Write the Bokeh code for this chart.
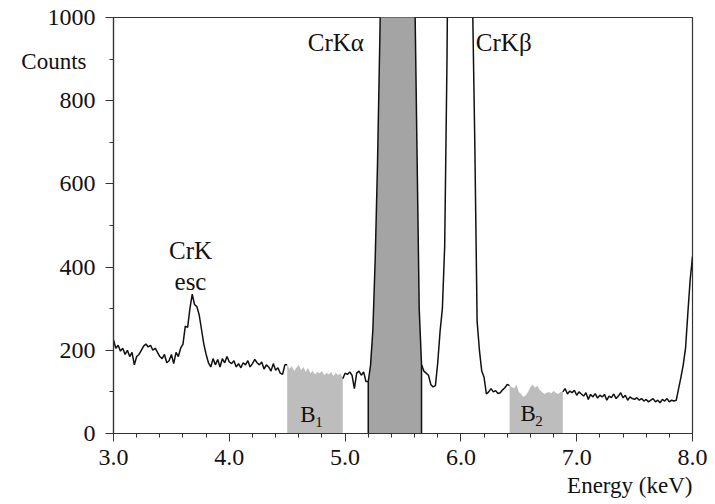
import numpy as np
from bokeh.plotting import figure
from bokeh.models import Range1d, Label, FixedTicker, LinearAxis, Title
from bokeh.embed import file_html
from bokeh.resources import INLINE

# ---- data (counts per 0.02 keV channel, 3.00 .. 8.00 keV)
e_start = 3.00
e_step = 0.02
counts = [
    225, 205, 212, 198, 205, 190, 200, 185, 195, 165,   # 3.00
    185, 190, 200, 210, 215, 208, 212, 200, 205, 195,   # 3.20
    185, 180, 190, 170, 175, 190, 168, 195, 185, 205,   # 3.40
    215, 258, 255, 300, 335, 310, 305, 285, 250, 215,   # 3.60
    190, 170, 160, 180, 165, 178, 160, 180, 170, 185,   # 3.80
    172, 168, 175, 160, 168, 158, 170, 165, 175, 160,   # 4.00
    168, 178, 170, 165, 172, 155, 165, 160, 150, 168,   # 4.20
    152, 158, 145, 142, 165, 165, 155, 162, 150, 158,   # 4.40
    165, 152, 160, 148, 158, 145, 150, 142, 148, 145,   # 4.60
    150, 140, 146, 142, 148, 138, 146, 140, 145, 132,   # 4.80
    145, 142, 148, 140, 108, 145, 150, 140, 148, 125,   # 5.00
    125, 165, 250, 420, 650, 950, 1300, 2000, 3500, 5000,   # 5.20
    6500, 7500, 7800, 7500, 6500, 5000, 3600, 2500, 1800, 1400,  # 5.40
    1100, 700, 300, 165, 150, 145, 140, 118, 112, 115,  # 5.60
    170, 245, 300, 450, 900, 1600, 2500, 3000, 3200, 3000,  # 5.80
    2600, 2000, 1600, 1300, 1150, 1050, 700, 270, 200, 150,  # 6.00
    135, 95, 100, 108, 100, 103, 96, 98, 105, 110,      # 6.20
    118, 115, 112, 108, 118, 100, 95, 88, 92, 100,      # 6.40
    112, 118, 110, 115, 105, 100, 95, 98, 100, 96,      # 6.60
    102, 98, 95, 100, 100, 108, 95, 102, 98, 104,       # 6.80
    92, 100, 95, 90, 98, 82, 94, 88, 96, 85,            # 7.00
    92, 88, 94, 80, 90, 86, 95, 84, 90, 98,             # 7.20
    86, 92, 80, 88, 84, 82, 86, 80, 84, 78,             # 7.40
    82, 76, 80, 84, 76, 80, 74, 82, 78, 84,             # 7.60
    76, 80, 78, 80, 108, 135, 165, 205, 290, 370,       # 7.80
    425,                                                # 8.00
]

# integration windows (keV)
b1_window = [4.50, 4.98]
peak_window = [5.20, 5.66]
b2_window = [6.42, 6.88]

x_ticks = [3.0, 4.0, 5.0, 6.0, 7.0, 8.0]
x_tick_labels = ["3.0", "4.0", "5.0", "6.0", "7.0", "8.0"]
y_ticks = [0, 200, 400, 600, 800, 1000]
y_tick_labels = ["0", "200", "400", "600", "800", "1000"]

c = np.array(counts, dtype=float)
e = np.round(e_start + e_step * np.arange(len(c)), 4)

FONT = "Liberation Serif"
INK = "#111111"

p = figure(width=715, height=504, x_range=Range1d(3.0, 8.0), y_range=Range1d(0, 1000),
           output_backend="svg", toolbar_location=None,
           min_border_left=113, min_border_right=23, min_border_top=17, min_border_bottom=71)
p.grid.visible = False
p.outline_line_color = "#333333"
p.outline_line_width = 1.2
p.background_fill_color = "white"
p.border_fill_color = "white"

def inwin(w):
    return (e >= w[0] - 1e-9) & (e <= w[1] + 1e-9)

# shaded areas
for w, col in ((b1_window, "#bdbdbd"), (b2_window, "#bdbdbd"), (peak_window, "#a4a4a4")):
    m = inwin(w)
    p.varea(x=e[m], y1=np.zeros(m.sum()), y2=c[m], fill_color=col)

# spectrum line (not drawn over the background windows)
segs = [(e <= b1_window[0] + 1e-9),
        (e >= b1_window[1] - 1e-9) & (e <= b2_window[0] + 1e-9),
        (e >= b2_window[1] - 1e-9)]
for m in segs:
    p.line(e[m], c[m], line_color=INK, line_width=1.5)

# edges of the peak window
idx = np.where(inwin(peak_window))[0]
p.segment(x0=[e[idx[0]], e[idx[-1]]], y0=[0, 0], x1=[e[idx[0]], e[idx[-1]]],
          y1=[c[idx[0]], c[idx[-1]]], line_color=INK, line_width=1.5)

# axes
for ax in (p.xaxis, p.yaxis):
    ax.axis_line_color = "#333333"
    ax.axis_line_width = 1.2
    ax.major_tick_line_color = "#333333"
    ax.minor_tick_line_color = "#333333"
    ax.major_tick_in = 0
    ax.major_tick_out = 8
    ax.minor_tick_in = 0
    ax.minor_tick_out = 4
    ax.major_label_text_font = FONT
    ax.major_label_text_font_size = "24px"
    ax.major_label_text_color = INK

p.xaxis.ticker = FixedTicker(ticks=x_ticks, minor_ticks=[round(3.0 + 0.2 * i, 2) for i in range(26)])
p.xaxis.major_label_overrides = dict(zip(x_ticks, x_tick_labels))
p.xaxis.major_label_standoff = 8
p.yaxis.ticker = FixedTicker(ticks=y_ticks, minor_ticks=list(range(0, 1001, 100)))
p.yaxis.major_label_overrides = dict(zip(y_ticks, y_tick_labels))
p.yaxis.major_label_standoff = 10

# "Counts" as a label-only axis on the left
cax = LinearAxis(ticker=FixedTicker(ticks=[895]), major_label_overrides={895: "Counts"},
                 axis_line_color=None, major_tick_line_color=None, minor_tick_line_color=None,
                 major_tick_out=0, major_label_standoff=-42,
                 major_label_text_font=FONT, major_label_text_font_size="23px",
                 major_label_text_color=INK)
p.add_layout(cax, "left")

# "Energy (keV)" under the axis, right-aligned
p.add_layout(Title(text="Energy (keV)", align="right", text_font=FONT, text_font_size="23px",
                   text_font_style="normal", text_color=INK, standoff=7), "below")

def lab(x, y, t, size="25px", align="center"):
    p.add_layout(Label(x=x, y=y, text=t, text_align=align, text_baseline="middle",
                       text_font=FONT, text_font_size=size, text_color=INK))

lab(4.92, 940, "CrKα")
lab(6.37, 940, "CrKβ")
lab(3.665, 440, "CrK")
lab(3.665, 365, "esc")
lab(4.68, 45, "B", size="23px")
lab(4.775, 28, "1", size="15px")
lab(6.58, 48, "B", size="23px")
lab(6.675, 31, "2", size="15px")

open("out.html", "w").write(file_html(p, INLINE))
